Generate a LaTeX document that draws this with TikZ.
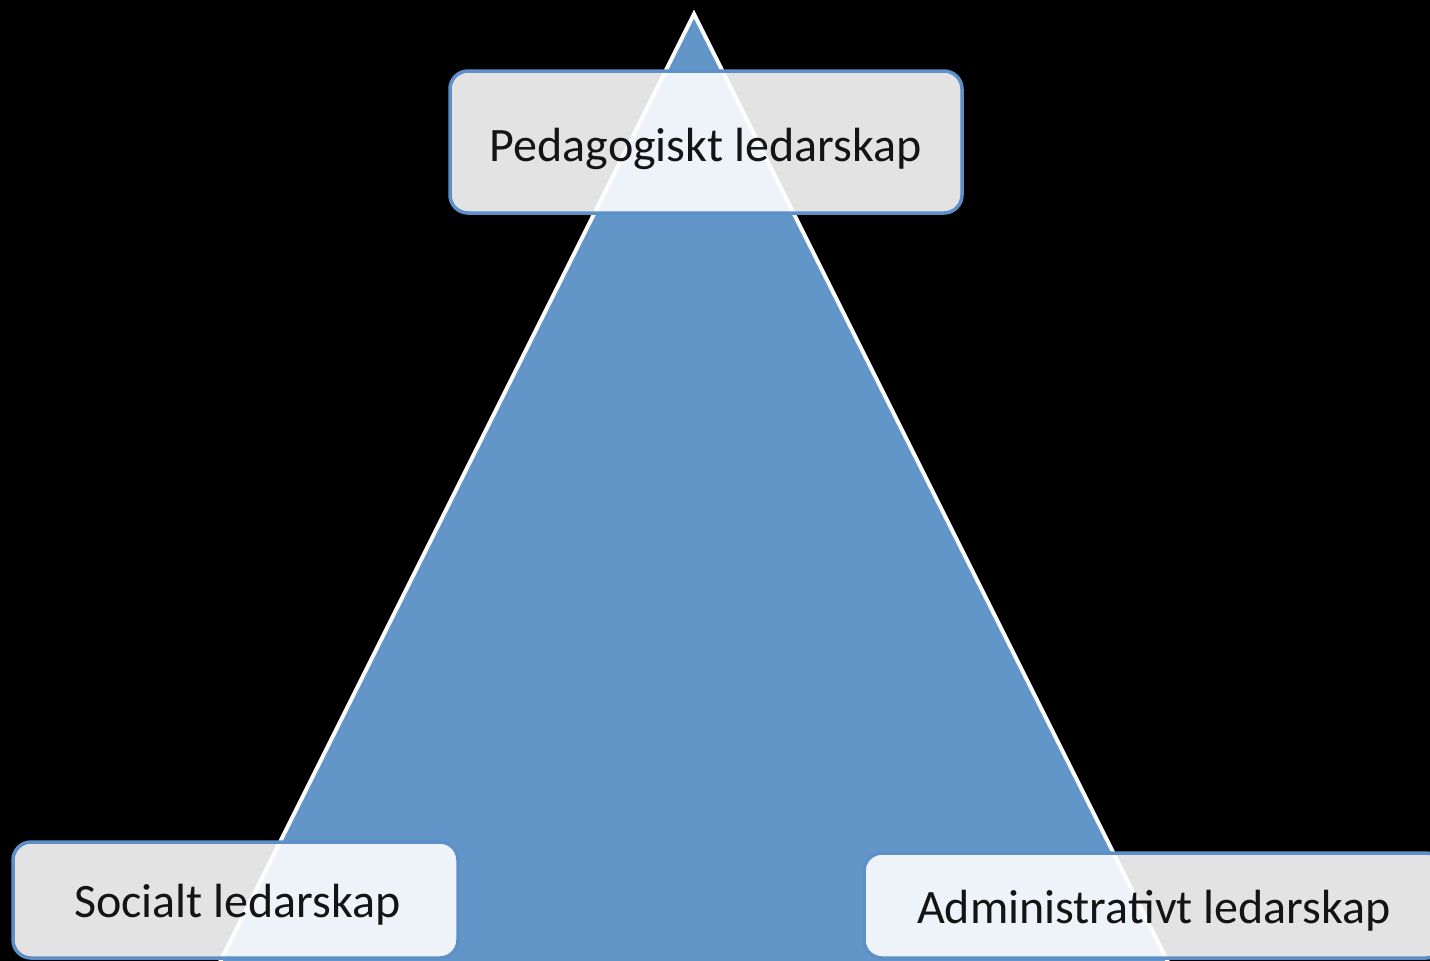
\documentclass[tikz,border=0pt]{standalone}
\usepackage{fontspec}
\setmainfont{Carlito}
\definecolor{tri}{RGB}{98,150,201}
\definecolor{edge}{RGB}{93,143,200}
\definecolor{ink}{RGB}{20,20,20}
\begin{document}
\begin{tikzpicture}[x=1pt,y=-1pt,
  box/.style={draw=edge, line width=3.5pt, fill=white, fill opacity=0.89, draw opacity=1,
              rounded corners=18pt, inner sep=0pt},
  lbl/.style={font=\fontsize{48}{58}\selectfont, text=ink, inner sep=0pt, anchor=base}]
\useasboundingbox (0,0) rectangle (1430,961);
\clip (0,0) rectangle (1430,961);
\fill[black] (0,0) rectangle (1430,961);
\coordinate (apex) at (694,14);
\coordinate (bl) at (194,1014);
\coordinate (br) at (1194,1014);
\filldraw[fill=tri, draw=white, line width=4pt, line join=miter] (apex) -- (bl) -- (br) -- cycle;
\node[box, minimum width=512pt, minimum height=142pt] (pedbox) at (706,142) {};
\node[box, minimum width=445pt, minimum height=116pt] (socbox) at (235.5,900) {};
\node[box, minimum width=580pt, minimum height=105pt] (admbox) at (1154,905.5) {};
\node[lbl] (ped) at (705.5,161) {Pedagogiskt ledarskap};
\node[lbl] (soc) at (237.5,917) {Socialt ledarskap};
\node[lbl] (adm) at (1154,923) {Administrativt ledarskap};
\end{tikzpicture}
\end{document}
